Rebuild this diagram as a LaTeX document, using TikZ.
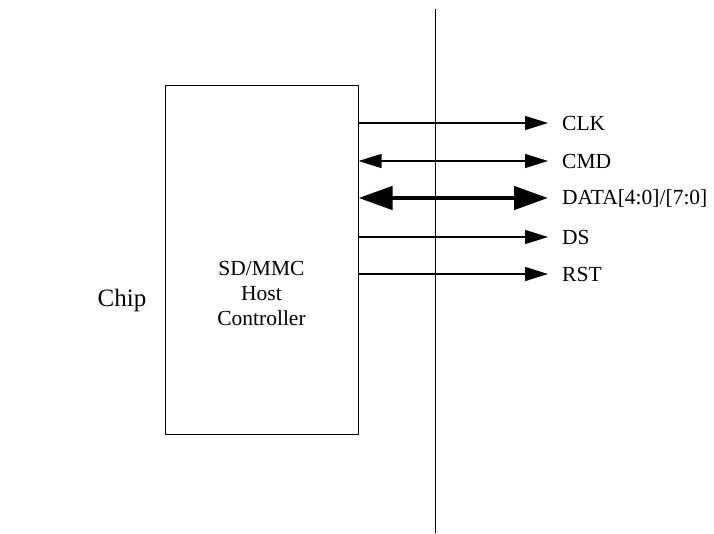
\documentclass[tikz,border=0pt]{standalone}
\usepackage{fontspec}
\setmainfont{Liberation Serif}
\usetikzlibrary{arrows.meta}
\tikzset{
  thinhead/.tip={Triangle[length=23pt,width=14pt]},
  thickhead/.tip={Triangle[length=34pt,width=23pt]}
}
\begin{document}
\begin{tikzpicture}[x=1pt,y=-1pt,
  sig/.style={line width=1.4pt},
  lbl/.style={anchor=west,inner sep=0pt,font=\fontsize{21.5}{25}\selectfont},
  boxnode/.style={draw,line width=1pt,minimum width=193pt,minimum height=349pt,inner sep=0pt}]
\useasboundingbox (0,0) rectangle (714,533);
\node[boxnode] (host) at (261.5,259.5) {};
\node[align=center,inner sep=0pt,font=\fontsize{21.5}{25}\selectfont] (hosttext) at (261.5,293) {SD/MMC\\Host\\Controller};
\node[inner sep=0pt,font=\fontsize{25}{30}\selectfont] (chip) at (122,300) {Chip};
\coordinate (vtop) at (435,9);
\coordinate (vbot) at (435,533);
\draw[line width=1pt] (vtop) -- (vbot);
\node[lbl] (clk) at (562,123) {CLK};
\node[lbl] (cmd) at (562,161) {CMD};
\node[lbl] (data) at (562,198) {DATA[4:0]/[7:0]};
\node[lbl] (ds) at (562,237) {DS};
\node[lbl] (rst) at (562,274) {RST};
\draw[sig,-{thinhead}] (host.east |- clk.west) -- ([xshift=-14pt]clk.west);
\draw[sig,{thinhead}-{thinhead}] (host.east |- cmd.west) -- ([xshift=-14pt]cmd.west);
\draw[line width=4.5pt,{thickhead}-{thickhead}] (host.east |- data.west) -- ([xshift=-14pt]data.west);
\draw[sig,-{thinhead}] (host.east |- ds.west) -- ([xshift=-14pt]ds.west);
\draw[sig,-{thinhead}] (host.east |- rst.west) -- ([xshift=-14pt]rst.west);
\end{tikzpicture}
\end{document}
